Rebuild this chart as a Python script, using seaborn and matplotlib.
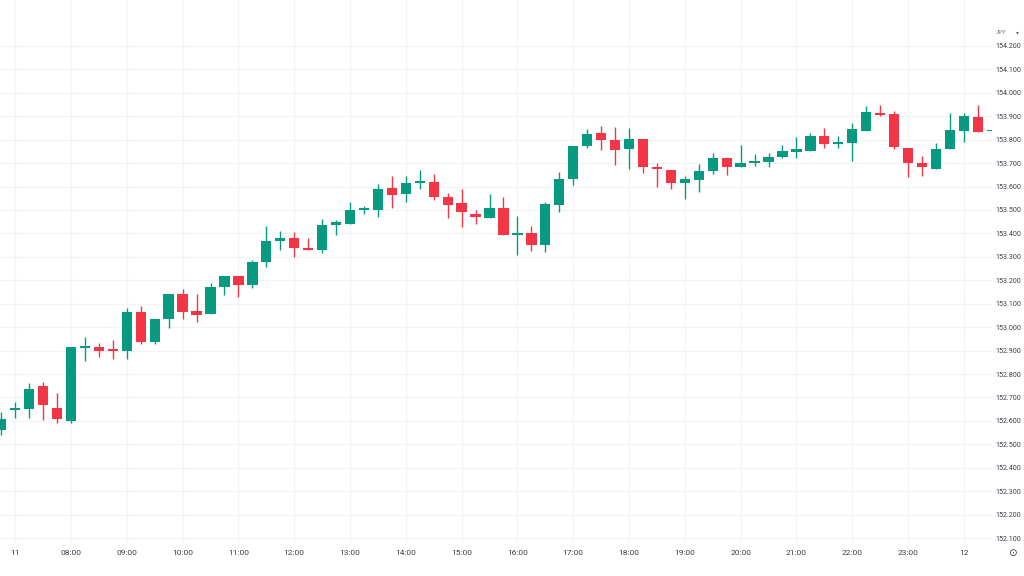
import matplotlib
matplotlib.use("Agg")
import matplotlib.pyplot as plt
from matplotlib import font_manager
import seaborn as sns
import pandas as pd
import numpy as np

# ---- data (15-minute USD/JPY candles) ----
times = ["06:45", "07:00", "07:15", "07:30", "07:45",
         "08:00", "08:15", "08:30", "08:45", "09:00", "09:15", "09:30", "09:45",
         "10:00", "10:15", "10:30", "10:45", "11:00", "11:15", "11:30", "11:45",
         "12:00", "12:15", "12:30", "12:45", "13:00", "13:15", "13:30", "13:45",
         "14:00", "14:15", "14:30", "14:45", "15:00", "15:15", "15:30", "15:45",
         "16:00", "16:15", "16:30", "16:45", "17:00", "17:15", "17:30", "17:45",
         "18:00", "18:15", "18:30", "18:45", "19:00", "19:15", "19:30", "19:45",
         "20:00", "20:15", "20:30", "20:45", "21:00", "21:15", "21:30", "21:45",
         "22:00", "22:15", "22:30", "22:45", "23:00", "23:15", "23:30", "23:45",
         "00:00", "00:15", "00:30"]

opens = [152.561, 152.646, 152.651, 152.749, 152.655,
         152.600, 152.911, 152.915, 152.907, 152.898, 153.065, 152.937, 153.035,
         153.142, 153.069, 153.056, 153.171, 153.218, 153.180, 153.278, 153.368,
         153.381, 153.338, 153.329, 153.436, 153.440, 153.500, 153.500, 153.594,
         153.568, 153.615, 153.620, 153.556, 153.530, 153.483, 153.466, 153.509,
         153.393, 153.402, 153.351, 153.521, 153.632, 153.773, 153.829, 153.799,
         153.760, 153.803, 153.684, 153.671, 153.615, 153.628, 153.667, 153.722,
         153.684, 153.701, 153.705, 153.726, 153.748, 153.752, 153.816, 153.782,
         153.786, 153.837, 153.914, 153.910, 153.765, 153.701, 153.675, 153.760,
         153.837, 153.897, 153.836]

highs = [152.638, 152.681, 152.762, 152.766, 152.719,
         152.915, 152.958, 152.932, 152.945, 153.082, 153.090, 153.035, 153.142,
         153.163, 153.142, 153.189, 153.218, 153.218, 153.287, 153.432, 153.410,
         153.406, 153.381, 153.462, 153.457, 153.534, 153.517, 153.611, 153.645,
         153.645, 153.671, 153.654, 153.573, 153.590, 153.500, 153.568, 153.556,
         153.474, 153.432, 153.534, 153.662, 153.773, 153.846, 153.859, 153.854,
         153.850, 153.803, 153.701, 153.671, 153.645, 153.696, 153.743, 153.722,
         153.777, 153.739, 153.743, 153.777, 153.812, 153.829, 153.850, 153.816,
         153.871, 153.944, 153.948, 153.923, 153.765, 153.731, 153.786, 153.914,
         153.914, 153.948, 153.843]

lows = [152.540, 152.612, 152.612, 152.604, 152.591,
        152.591, 152.856, 152.873, 152.864, 152.864, 152.928, 152.928, 152.996,
        153.035, 153.022, 153.056, 153.137, 153.129, 153.167, 153.257, 153.329,
        153.299, 153.329, 153.317, 153.393, 153.440, 153.483, 153.470, 153.509,
        153.534, 153.590, 153.543, 153.466, 153.427, 153.440, 153.466, 153.393,
        153.308, 153.325, 153.321, 153.492, 153.607, 153.765, 153.756, 153.692,
        153.675, 153.658, 153.598, 153.590, 153.547, 153.577, 153.654, 153.649,
        153.684, 153.688, 153.684, 153.722, 153.722, 153.752, 153.765, 153.765,
        153.709, 153.837, 153.901, 153.760, 153.641, 153.645, 153.675, 153.760,
        153.790, 153.833, 153.836]

closes = [152.608, 152.655, 152.736, 152.668, 152.608,
          152.915, 152.920, 152.898, 152.898, 153.065, 152.937, 153.035, 153.142,
          153.065, 153.052, 153.171, 153.218, 153.180, 153.278, 153.368, 153.381,
          153.338, 153.329, 153.436, 153.449, 153.500, 153.509, 153.590, 153.564,
          153.615, 153.624, 153.556, 153.521, 153.492, 153.470, 153.509, 153.393,
          153.402, 153.351, 153.526, 153.632, 153.773, 153.824, 153.799, 153.756,
          153.803, 153.684, 153.675, 153.615, 153.632, 153.667, 153.722, 153.684,
          153.701, 153.709, 153.726, 153.752, 153.760, 153.816, 153.782, 153.790,
          153.846, 153.918, 153.906, 153.769, 153.701, 153.684, 153.760, 153.842,
          153.901, 153.833, 153.842]

x_tick_times = ["07:00", "08:00", "09:00", "10:00", "11:00", "12:00", "13:00", "14:00",
                "15:00", "16:00", "17:00", "18:00", "19:00", "20:00", "21:00",
                "22:00", "23:00", "00:00"]
x_tick_labels = ["11", "08:00", "09:00", "10:00", "11:00", "12:00", "13:00", "14:00",
                 "15:00", "16:00", "17:00", "18:00", "19:00", "20:00", "21:00",
                 "22:00", "23:00", "12"]
price_ticks = [152.1, 152.2, 152.3, 152.4, 152.5, 152.6, 152.7, 152.8, 152.9, 153.0,
               153.1, 153.2, 153.3, 153.4, 153.5, 153.6, 153.7, 153.8, 153.9,
               154.0, 154.1, 154.2]

# ---- styling ----
sns.set_theme(style="white")
available = {f.name for f in font_manager.fontManager.ttflist}
label_font = "Liberation Sans Narrow" if "Liberation Sans Narrow" in available else "Roboto"
plt.rcParams["font.family"] = [label_font, "DejaVu Sans"]
ysize = 6.0 if label_font == "Liberation Sans Narrow" else 5.1

UP = "#089981"
DOWN = "#F23645"
GRID = "#f1f3f6"
TEXT = "#3b3f4a"

df = pd.DataFrame({"time": times, "open": opens, "high": highs,
                   "low": lows, "close": closes})
df["pos"] = np.arange(len(df))
df["up"] = df["close"] >= df["open"]
df["color"] = np.where(df["up"], UP, DOWN)
df["body_low"] = df[["open", "close"]].min(axis=1)
df["body_h"] = (df["close"] - df["open"]).abs().clip(lower=0.0045)

fig = plt.figure(figsize=(10.24, 5.76), dpi=100)
ax = fig.add_axes([0, 33 / 576, 992 / 1024, 543 / 576])

# grid
pos_of = {t: p for t, p in zip(df["time"], df["pos"])}
xt = [pos_of[t] for t in x_tick_times]
for y in price_ticks:
    ax.axhline(y, color=GRID, lw=0.9, zorder=0)
for x in xt:
    ax.axvline(x, color=GRID, lw=0.9, zorder=0)

# wicks and bodies
ax.vlines(df["pos"], df["low"], df["high"], colors=df["color"], lw=1.0, zorder=2)
ax.bar(df["pos"], df["body_h"], bottom=df["body_low"], width=0.74,
       color=df["color"], edgecolor="none", zorder=3)

ax.set_xlim(-0.09, 71.02)
ax.set_ylim(152.079, 154.396)

ax.set_xticks(xt)
ax.set_xticklabels(x_tick_labels)
ax.set_yticks(price_ticks)
ax.set_yticklabels([f"{v:.3f}" for v in price_ticks])
ax.yaxis.tick_right()
ax.tick_params(axis="both", length=0, colors=TEXT)
ax.tick_params(axis="y", pad=2.5, labelsize=ysize)
ax.tick_params(axis="x", pad=5, labelsize=6.0)
for s in ax.spines.values():
    s.set_visible(False)
ax.grid(False)
ax.set_xlabel("")
ax.set_ylabel("")

fig.text(996 / 1024, 1 - 33 / 576, "JPY", fontsize=4.2, color="#6a6d78",
         ha="left", va="center")
fig.text(1017 / 1024, 1 - 33 / 576, "▾", fontsize=4.2, color="#6a6d78",
         ha="center", va="center", family=["DejaVu Sans"])
fig.text(1012 / 1024, 1 - 553 / 576, "⊙", fontsize=7.5, color=TEXT,
         ha="center", va="center", family=["DejaVu Sans"])

fig.savefig("out.png", dpi=100, facecolor="white")
